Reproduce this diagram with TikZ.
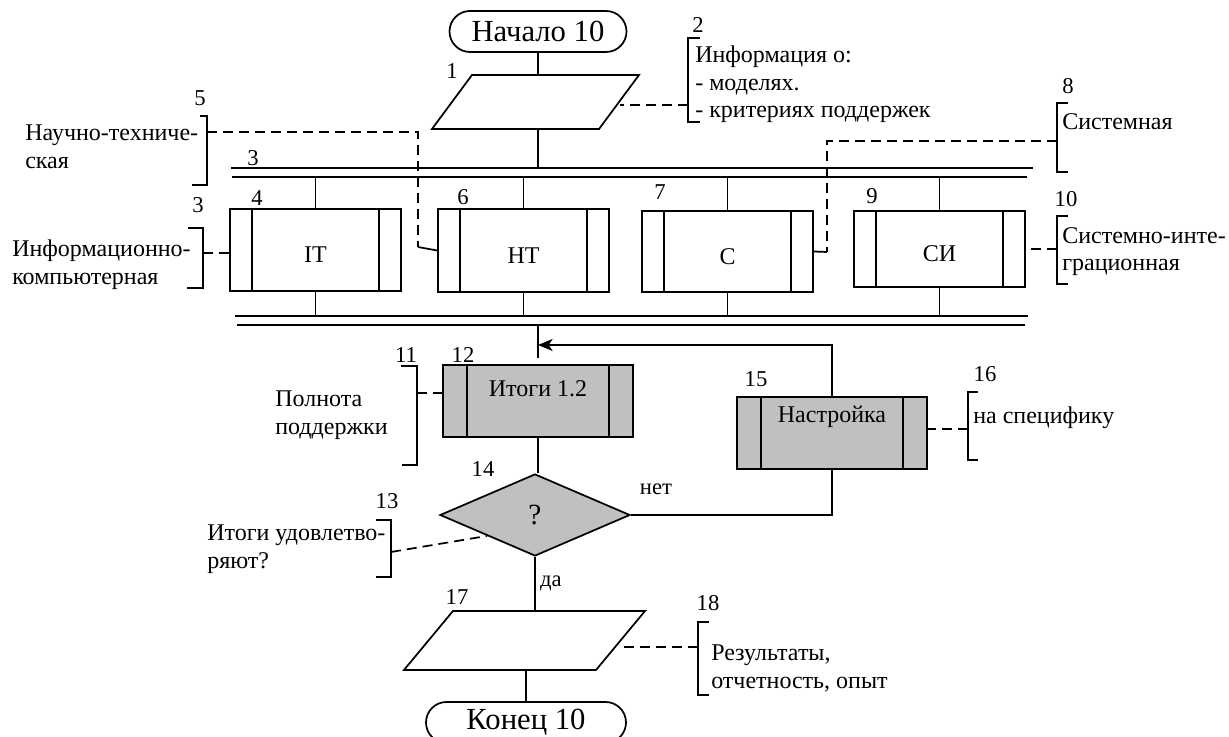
\documentclass[tikz,border=0pt]{standalone}
\usepackage{fontspec}
\setmainfont{Liberation Serif}
\usetikzlibrary{shapes.geometric,shapes.misc,arrows.meta}
\definecolor{boxGray}{RGB}{192,192,192}

\begin{document}
\begin{tikzpicture}
[x=0.75pt,y=-0.75pt,
  lineDecorate/.style={-,line width=1.3pt},%
  dashDecorate/.style={line width=1.3pt,dash pattern=on 7.5pt off 4.5pt},
  termDecorate/.style={shape=rounded rectangle,draw,line width=1.3pt,inner sep=0pt,
    minimum height=30.75pt,font=\fontsize{23}{26}\selectfont},
  dataDecorate/.style={shape=trapezium,draw,line width=1.3pt,inner sep=0pt,
    text depth=0pt,trapezium stretches body=true},
  procDecorate/.style={shape=rectangle,draw,line width=1.3pt,inner sep=0pt,
    text height=19pt,text depth=0pt,font=\fontsize{18}{20.6}\selectfont,
    path picture={\draw[line width=1.3pt]
      ([xshift=#1]path picture bounding box.north west) -- ([xshift=#1]path picture bounding box.south west)
      ([xshift=-#1]path picture bounding box.north east) -- ([xshift=-#1]path picture bounding box.south east);}},
  procDecorate/.default=16.5pt,
  decisionDecorate/.style={shape=diamond,draw,line width=1.3pt,inner sep=0pt,fill=boxGray,
    font=\fontsize{22}{25}\selectfont},
  noteDecorate/.style={anchor=north west,align=left,inner sep=0pt,font=\fontsize{18}{20.6}\selectfont},
  numDecorate/.style={inner sep=0pt,font=\fontsize{17}{20}\selectfont}]
\path[fill=white,use as bounding box] (0,0) rectangle (1229,737);
%% flowchart blocks
\node[termDecorate,minimum width=132.75pt] (start) at (538,31.5) {Начало 10};
\node[dataDecorate,minimum width=155.25pt,text height=40.5pt,
  trapezium left angle=53.5,trapezium right angle=126.5] (p1) at (535.5,102) {};
\node[procDecorate,minimum width=128.25pt,minimum height=61.5pt] (it) at (315.5,250) {IT};
\node[procDecorate,minimum width=128.25pt,minimum height=62.25pt] (nt) at (523.5,250.5) {НТ};
\node[procDecorate,minimum width=128.25pt,minimum height=60.75pt] (c) at (727.5,251.5) {С};
\node[procDecorate,minimum width=128.25pt,minimum height=57pt] (si) at (939.5,249) {СИ};
\node[procDecorate=18pt,fill=boxGray,minimum width=142.5pt,minimum height=54pt,
  text height=12pt,text depth=18pt] (itogi) at (538,401) {Итоги 1.2};
\node[procDecorate=18pt,fill=boxGray,minimum width=142.5pt,minimum height=54pt,
  text height=12pt,text depth=27pt] (nastr) at (832,433) {Настройка};
\node[decisionDecorate,minimum width=142.5pt,minimum height=61.5pt] (q) at (535,515) {?};
\node[dataDecorate,minimum width=180.75pt,text height=44.25pt,
  trapezium left angle=50.3,trapezium right angle=129.7] (p17) at (524.5,640.5) {};
\node[termDecorate,minimum width=150pt] (end) at (526,722.5) {Конец 10};
%% texts of the notes
\node[noteDecorate] (t2) at (695,46) {Информация о:\\- моделях.\\- критериях поддержек};
\node[noteDecorate] (t5) at (25,125) {Научно-техниче-\\ская};
\node[noteDecorate] (t3) at (12,240) {Информационно-\\компьютерная};
\node[noteDecorate] (t8) at (1062,113) {Системная};
\node[noteDecorate] (t10) at (1062,227) {Системно-инте-\\грационная};
\node[noteDecorate] (t11) at (275,391) {Полнота\\поддержки};
\node[noteDecorate] (t16) at (973,407) {на специфику};
\node[noteDecorate] (t13) at (207,525) {Итоги удовлетво-\\ряют?};
\node[noteDecorate] (t18) at (711,645) {Результаты,\\отчетность, опыт};
\node[numDecorate] (no) at (656,489) {нет};
\node[numDecorate] (yes) at (551,583) {да};
%% numbers
\foreach \name/\x/\y/\txt in {
  n1/452/71/1, n2/698/25/2, n3a/253/158/3, n3b/198/205/3, n4/257/198/4,
  n5/200/98/5, n6/463/197/6, n7/660/192/7, n8/1068/86/8, n9/872/196/9,
  n10/1066/199/10, n11/406/355/11, n12/463/355/12, n13/387/501/13,
  n14/483/469/14, n15/756/379/15, n16/985/374/16, n17/457/597/17, n18/708/603/18}
{
  \node[numDecorate] (\name) at (\x,\y) {\txt};
}
%% brackets of the notes
\foreach \name/\x/\ya/\ym/\yb/\ta/\tb in {
  b5/207/116/132/185/-7/-15, b3/203/228/253/288/-15/-16,
  b11/417/366/393/465/-16/-15, b13/391/520/552/577/-15/-15,
  b2/688/38/105/122/12/12, b8/1057/103/141/172/11/11,
  b10/1057/216/249/284/11/11, b16/968/392/429/460/10/10,
  b18/698/622/647/695/11/11}
{
  \draw[lineDecorate] (\x+\ta,\ya) -- (\x,\ya) -- (\x,\yb) -- (\x+\tb,\yb);
  \coordinate (\name) at (\x,\ym);
}
%% bus lines
\coordinate (busA1) at (231,168); \coordinate (busA1e) at (1033,168);
\coordinate (busA2) at (232,177); \coordinate (busA2e) at (1027,177);
\coordinate (busB1) at (235,316); \coordinate (busB1e) at (1028,316);
\coordinate (busB2) at (237,325); \coordinate (busB2e) at (1025,325);
\draw[lineDecorate] (busA1) -- (busA1e) (busA2) -- (busA2e)
  (busB1) -- (busB1e) (busB2) -- (busB2e);
%% edges or lines
\coordinate (feed) at (538,358);
\coordinate (arrowTip) at (538,345);
\coordinate (c5) at (418,247);
\coordinate (c8) at (827,252);
\draw[lineDecorate] (start.south) -- (start.south |- p1.north);
\draw[lineDecorate] (start.south |- p1.south) -- (start.south |- busA1);
\foreach \blk in {it,nt,c,si}
{
  \draw[lineDecorate] (\blk.north) -- (\blk.north |- busA2);
  \draw[lineDecorate] (\blk.south) -- (\blk.south |- busB1);
}
\draw[lineDecorate] (itogi.north |- busB2) -- (feed);
\draw[lineDecorate,-{Stealth[length=11pt,width=9pt,inset=3pt]}] (nastr.north) |- (arrowTip);
\draw[lineDecorate] (itogi.south) -- (itogi.south |- q.north);
\draw[lineDecorate] (q.east) -| (nastr.south);
\draw[lineDecorate] (q.south) -- (q.south |- p17.north);
\draw[lineDecorate] (end.north |- p17.south) -- (end.north);
%% dashed leaders
\draw[dashDecorate] (b2) -- (b2 -| p1.east);
\draw[dashDecorate] (b5) -| (c5);
\draw[lineDecorate] (c5) -- (nt.west);
\draw[dashDecorate] (b8) -| (c8);
\draw[lineDecorate] (c8) -- (c.east);
\draw[dashDecorate] (b3) -- (b3 -| it.west);
\draw[dashDecorate] (b10) -- (b10 -| si.east);
\draw[dashDecorate] (b11) -- (b11 -| itogi.west);
\draw[dashDecorate] (b16) -- (b16 -| nastr.east);
\draw[dashDecorate] (b13) -- (q.south west);
\draw[dashDecorate] (b18) -- (b18 -| p17.east);
\end{tikzpicture}
\end{document}
